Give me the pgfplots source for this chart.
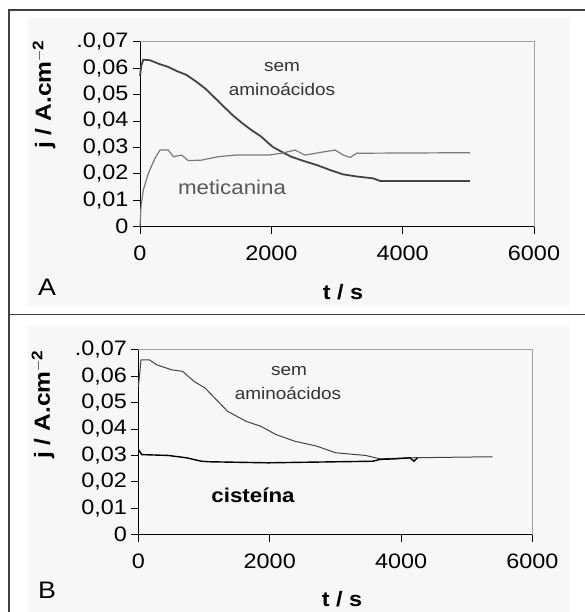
\documentclass[border=0pt]{standalone}
\usepackage{pgfplots}
\pgfplotsset{compat=1.18}
\usepackage{fontspec}
\setmainfont[FakeStretch=1.12]{Liberation Sans}

\definecolor{curvedark}{HTML}{444444}
\definecolor{curvegrey}{HTML}{7A7A7A}
\definecolor{boxgrey}{HTML}{A0A0A0}

\pgfplotsset{
  panel/.style={
    scale only axis, width=394bp, height=185bp,
    anchor=south west,
    xmin=0, xmax=6000, ymin=0, ymax=0.07,
    axis x line=bottom, axis y line=left,
    axis line style={-, line width=0.9bp, black},
    tick align=outside, major tick length=7bp,
    tick style={line width=0.9bp, black},
    scaled y ticks=false, scaled x ticks=false,
    xtick={0,2000,4000,6000}, xticklabels={0,2000,4000,6000},
    ytick={0,0.01,0.02,0.03,0.04,0.05,0.06,0.07},
    yticklabels={0,{0,01},{0,02},{0,03},{0,04},{0,05},{0,06},{.0,07}},
    ticklabel style={font=\fontsize{21}{21}\selectfont},
    xticklabel style={yshift=-9bp},
    yticklabel style={xshift=-1bp},
    clip=false,
  }
}

\begin{document}
\begin{tikzpicture}
\useasboundingbox (0,0) rectangle (585bp,-612bp);
% light chart-area background
\fill[black!3] (28bp,-18bp) rectangle (570bp,-306bp);
\fill[black!3] (28bp,-326bp) rectangle (570bp,-612bp);
% frame
\draw[black!75, line width=1.5bp] (9bp,-612bp) -- (9bp,-10bp) -- (585bp,-10bp);
\draw[black!75, line width=1.5bp] (9bp,-314.3bp) -- (585bp,-314.3bp);

% ---- panel A ----
\begin{axis}[panel, at={(140bp,-226.7bp)}]
\draw[boxgrey, line width=0.8bp] (rel axis cs:0,1) -- (rel axis cs:1,1) -- (rel axis cs:1,0);
\addplot[curvedark, line width=1.8bp] coordinates {
 (0,0.057) (20,0.061) (50,0.0632) (150,0.063) (300,0.0615) (426,0.0605)
 (550,0.059) (710,0.0574) (850,0.055) (993,0.0523) (1130,0.049) (1277,0.0454)
 (1420,0.042) (1561,0.0391) (1700,0.0365) (1845,0.0341) (2015,0.0303)
 (2160,0.0283) (2300,0.0265) (2500,0.0248) (2696,0.0233) (2900,0.0214)
 (3093,0.0198) (3300,0.019) (3548,0.0183) (3661,0.0173) (5023,0.0173)
};
\addplot[curvegrey, line width=1.2bp] coordinates {
 (0,0) (15,0.0076) (51,0.0139) (127,0.0202) (228,0.0259) (305,0.029)
 (430,0.029) (508,0.0265) (635,0.0271) (736,0.025) (939,0.0252)
 (1193,0.0265) (1447,0.0271) (1954,0.0271) (2158,0.0278) (2361,0.029)
 (2513,0.0271) (2767,0.0282) (2970,0.029) (3097,0.0271) (3198,0.0262)
 (3300,0.0278) (5026,0.028)
};
\end{axis}
\node[black!80, font=\fontsize{17}{17}\selectfont] at (282bp,-66.7bp) {sem};
\node[black!80, font=\fontsize{17}{17}\selectfont] at (282bp,-89bp) {aminoácidos};
\node[black!65, font=\fontsize{20}{20}\selectfont] at (232bp,-187bp) {meticanina};
\node[rotate=90, font=\bfseries\fontsize{22}{22}\selectfont] at (44bp,-95bp) {j / A.cm$^{\mathbf{-2}}$};
\node[font=\bfseries\fontsize{21}{21}\selectfont] at (343bp,-292bp) {t / s};
\node[font=\fontsize{24}{24}\selectfont] at (47bp,-287bp) {A};

% ---- panel B ----
\begin{axis}[panel, at={(138.4bp,-534.7bp)}]
\draw[boxgrey, line width=0.8bp] (rel axis cs:0,1) -- (rel axis cs:1,1) -- (rel axis cs:1,0);
\addplot[curvedark, line width=1bp] coordinates {
 (0,0.056) (40,0.0662) (165,0.0662) (278,0.0643) (505,0.0624) (675,0.0618)
 (846,0.058) (1016,0.0555) (1186,0.0511) (1357,0.0467) (1640,0.0429)
 (1867,0.041) (2094,0.0379) (2378,0.0354) (2719,0.0335) (3003,0.031)
 (3457,0.030) (3684,0.0287) (4138,0.0291) (5390,0.0295)
};
\addplot[black, line width=1.4bp] coordinates {
 (0,0.0322) (51,0.0303) (448,0.030) (732,0.0291) (959,0.0278) (1073,0.0276)
 (1981,0.0272) (2492,0.0274) (3570,0.0278) (3684,0.0285) (3911,0.0287)
 (4138,0.0291) (4195,0.0278) (4251,0.0291)
};
\end{axis}
\node[black!80, font=\fontsize{17}{17}\selectfont] at (289bp,-371bp) {sem};
\node[black!80, font=\fontsize{17}{17}\selectfont] at (288bp,-393bp) {aminoácidos};
\node[font=\bfseries\fontsize{20}{20}\selectfont] at (253bp,-495bp) {cisteína};
\node[rotate=90, font=\bfseries\fontsize{22}{22}\selectfont] at (43bp,-405bp) {j / A.cm$^{\mathbf{-2}}$};
\node[font=\bfseries\fontsize{21}{21}\selectfont] at (342bp,-599bp) {t / s};
\node[font=\fontsize{24}{24}\selectfont] at (47bp,-590bp) {B};
\end{tikzpicture}
\end{document}
